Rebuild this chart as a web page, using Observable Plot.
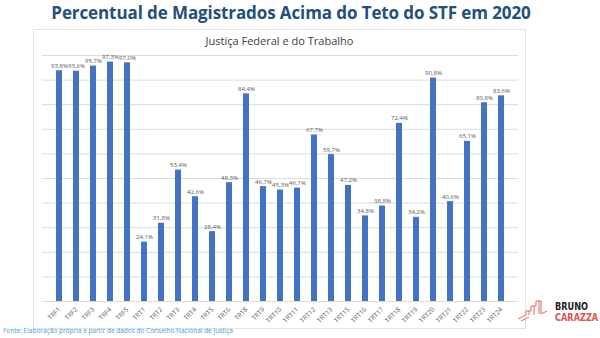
<!DOCTYPE html>
<html><head><meta charset="utf-8">
<script src="https://cdn.jsdelivr.net/npm/d3@7"></script>
<script src="https://cdn.jsdelivr.net/npm/@observablehq/plot@0.6"></script>
<style>
html,body{margin:0;padding:0;background:#fff;}
#wrap{position:relative;width:600px;height:338px;overflow:hidden;font-family:"Open Sans",Calibri,"Liberation Sans",sans-serif;}
#title{position:absolute;left:0;top:1px;width:582px;text-align:center;font-size:17px;font-weight:700;color:#22507e;font-family:"Open Sans",sans-serif;letter-spacing:-0.1px;line-height:24px;}
#frame{position:absolute;left:33px;top:29px;width:493px;height:300px;border:1px solid #e3e3e3;box-sizing:border-box;}
#sub{position:absolute;left:33px;top:33px;width:493px;text-align:center;font-size:11px;color:#404040;}
#chart{position:absolute;left:33px;top:45px;}
#foot{position:absolute;left:3px;top:326px;font-size:6.5px;color:#4a9bd8;}
#logo{position:absolute;left:516px;top:298px;}
</style></head>
<body><div id="wrap">
<div id="title">Percentual de Magistrados Acima do Teto do STF em 2020</div>
<div id="frame"></div>
<div id="sub">Justiça Federal e do Trabalho</div>
<div id="chart"></div>
<div id="foot">Fonte: Elaboração própria a partir de dados do Conselho Nacional de Justiça</div>
<div id="logo">
<svg width="84" height="26" viewBox="0 0 84 26">
<g fill="none" stroke="#e8675a" stroke-width="1">
<path d="M2 21 L10 17 L10 13 L15 13 L15 8 L20 8 L20 3 L25 3 L25 16 L31 13"/>
<path d="M5 23 L13 19 M13 17 L13 13 M18 17 L18 8 M23 16 L23 3"/>
</g>
<g transform="translate(39,0) scale(0.78,1)">
<text x="0" y="12" font-family="'DejaVu Sans',sans-serif" font-weight="700" font-size="10.5" fill="#222">BRUNO</text>
<text x="0" y="23.5" font-family="'DejaVu Sans',sans-serif" font-weight="700" font-size="10.5" fill="#d9534f">CARAZZA</text>
</g>
</svg>
</div>
</div>
<script>
const categories = ["TRF1","TRF2","TRF3","TRF4","TRF5","TRT1","TRT2","TRT3","TRT4","TRT5","TRT6","TRT8","TRT9","TRT10","TRT11","TRT12","TRT13","TRT15","TRT16","TRT17","TRT18","TRT19","TRT20","TRT21","TRT22","TRT23","TRT24"];
const values = [93.8,93.6,95.7,97.3,97.0,24.1,31.8,53.4,42.6,28.4,48.3,84.4,46.7,45.3,46.1,67.7,59.7,47.2,34.8,38.8,72.4,34.2,90.8,40.6,65.1,80.8,83.6];
const yTicks = [0,10,20,30,40,50,60,70,80,90,100];
const data = categories.map((c,i)=>({cat:c, v:values[i]}));
const fmt = v => v.toFixed(1).replace(".", ",") + "%";
const chart = Plot.plot({
  width: 493, height: 282,
  marginLeft: 9, marginRight: 8, marginTop: 10, marginBottom: 26,
  x: {domain: categories, padding: 0.66, label: null},
  y: {domain: [0,100], label: null},
  style: {fontFamily: "'Open Sans', sans-serif", background: "transparent"},
  marks: [
    Plot.ruleY(yTicks, {stroke: "#dcdcdc", strokeWidth: 1}),
    Plot.barY(data, {x: "cat", y: "v", fill: "#4472c4"}),
    Plot.text(data, {x: "cat", y: "v", text: d => fmt(d.v), dy: -5, fontSize: 6, fill: "#595959"}),
    Plot.axisX({tickSize: 0, tickRotate: -45, fontSize: 6.5, fill: "#595959", tickPadding: 7, label: null}),
    Plot.axisY({ticks: [], label: null})
  ]
});
document.getElementById("chart").appendChild(chart);
</script>
</body></html>
